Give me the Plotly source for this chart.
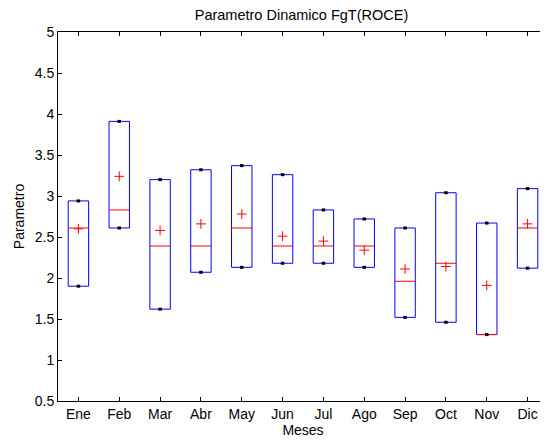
import plotly.graph_objects as go

# data
meses = ["Ene", "Feb", "Mar", "Abr", "May", "Jun", "Jul", "Ago", "Sep", "Oct", "Nov", "Dic"]
minimo = [1.90, 2.61, 1.62, 2.07, 2.13, 2.18, 2.18, 2.13, 1.52, 1.46, 1.31, 2.12]
maximo = [2.94, 3.91, 3.20, 3.32, 3.37, 3.26, 2.83, 2.72, 2.61, 3.04, 2.67, 3.09]
mediana = [2.61, 2.83, 2.39, 2.39, 2.61, 2.39, 2.39, 2.39, 1.96, 2.18, 1.31, 2.61]
media = [2.60, 3.24, 2.58, 2.66, 2.78, 2.51, 2.45, 2.34, 2.11, 2.14, 1.91, 2.66]

FONT = "Liberation Sans, Arial, Helvetica, sans-serif"

# the page body has an 8px margin, so the figure is drawn 8px smaller
W, H = 540, 433

fig = go.Figure()

# boxes from min to max (whiskers collapse onto the box edges)
fig.add_trace(go.Bar(
    x=meses, y=[hi - lo for lo, hi in zip(minimo, maximo)], base=minimo,
    width=0.5, marker=dict(color="white", line=dict(color="blue", width=1)),
    showlegend=False, hoverinfo="skip",
))

# red median lines
fig.add_trace(go.Scatter(
    x=meses, y=mediana, mode="markers", showlegend=False,
    marker=dict(symbol="line-ew", size=14.5, line=dict(color="red", width=1)),
))

# whisker ends (black dots)
fig.add_trace(go.Scatter(
    x=meses + meses, y=minimo + maximo, mode="markers", showlegend=False,
    marker=dict(symbol="line-ew", size=2.5, line=dict(color="black", width=3)),
))

# mean markers
fig.add_trace(go.Scatter(
    x=meses, y=media, mode="markers", showlegend=False,
    marker=dict(symbol="cross-thin", size=7, line=dict(color="red", width=1)),
))

axis_common = dict(
    showline=True, linecolor="black", linewidth=1, mirror="ticks",
    ticks="inside", ticklen=4, tickcolor="black", showgrid=False, zeroline=False,
    tickfont=dict(family=FONT, size=14, color="black"),
)

fig.update_layout(
    width=W, height=H,
    margin=dict(l=50, r=0, t=24, b=40),
    paper_bgcolor="white", plot_bgcolor="white",
    title=dict(text="Parametro Dinamico FgT(ROCE)", x=293.5 / W, xanchor="center",
               y=1 - 7 / H, yanchor="middle",
               font=dict(family=FONT, size=14.5, color="black")),
    xaxis=dict(range=[-0.5, 11.5], title=dict(text="Meses", standoff=0,
               font=dict(family=FONT, size=14, color="black")), **axis_common),
    yaxis=dict(range=[0.5, 5], tickvals=[0.5, 1, 1.5, 2, 2.5, 3, 3.5, 4, 4.5, 5],
               ticktext=["0.5", "1", "1.5", "2", "2.5", "3", "3.5", "4", "4.5", "5"],
               title=dict(text="Parametro", standoff=6,
                          font=dict(family=FONT, size=14, color="black")),
               **axis_common),
)

fig.write_html("out.html")
